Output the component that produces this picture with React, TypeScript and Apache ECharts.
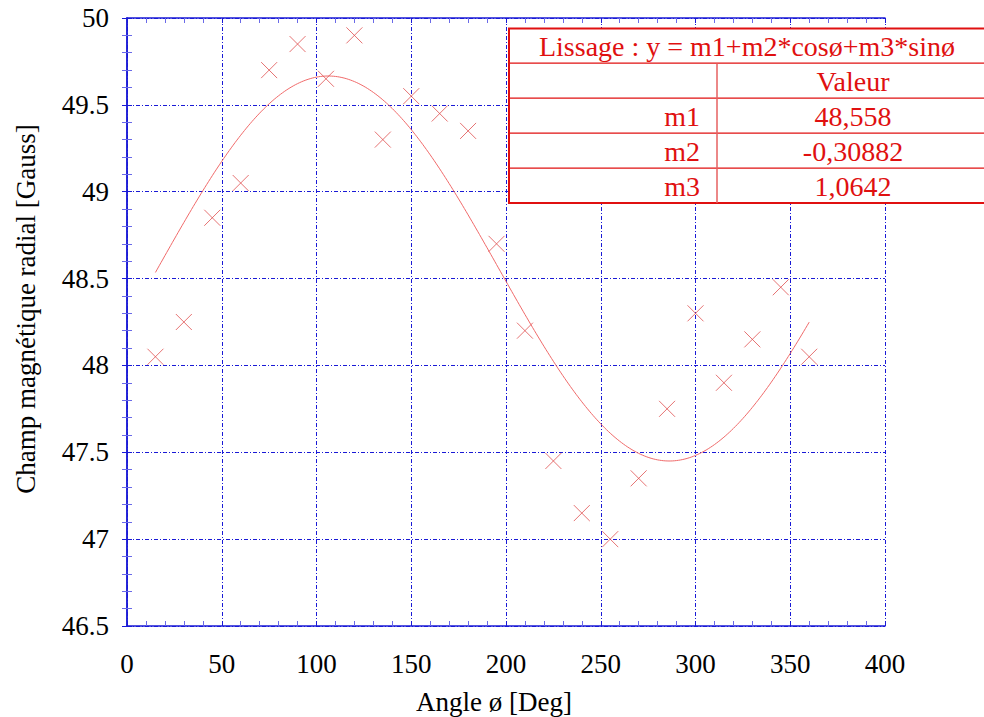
import React, { useEffect, useRef } from "react";
import * as echarts from "echarts";

// Measured radial field vs. angle
const angles = [15, 30, 45, 60, 75, 90, 105, 120, 135, 150, 165, 180, 195, 210, 225, 240, 255, 270, 285, 300, 315, 330, 345, 360];
const fieldValues = [48.05, 48.25, 48.85, 49.05, 49.7, 49.85, 49.65, 49.9, 49.3, 49.55, 49.45, 49.35, 48.7, 48.2, 47.45, 47.15, 47.0, 47.35, 47.75, 48.3, 47.9, 48.15, 48.45, 48.05];

// Fit parameters: y = m1 + m2*cos(ø) + m3*sin(ø)
const paramNames = ["m1", "m2", "m3"];
const paramValues = [48.558, -0.30882, 1.0642];

const xTicks = [0, 50, 100, 150, 200, 250, 300, 350, 400];
const yTicks = [46.5, 47, 47.5, 48, 48.5, 49, 49.5, 50];

const FONT = "Liberation Serif";
const BLUE = "#1a1ad6";
const RED = "#e01010";

function fitCurve(): number[][] {
  const [m1, m2, m3] = paramValues;
  const pts: number[][] = [];
  const start = angles[0];
  const end = angles[angles.length - 1];
  for (let a = start; a <= end; a += 1) {
    const r = (a * Math.PI) / 180;
    pts.push([a, m1 + m2 * Math.cos(r) + m3 * Math.sin(r)]);
  }
  return pts;
}

function frNumber(v: number): string {
  return String(v).replace(".", ",");
}

function buildTable(): any[] {
  const left = 509;
  const right = 990;
  const top = 28.5;
  const rowH = 34.9;
  const colX = 717;
  const rows = 2 + paramNames.length;
  const bottom = top + rowH * rows;
  const els: any[] = [];
  els.push({
    type: "rect",
    shape: { x: left, y: top, width: right - left, height: bottom - top },
    style: { fill: "#ffffff", stroke: RED, lineWidth: 2 },
    z: 10,
  });
  for (let i = 1; i < rows; i++) {
    const y = Math.round(top + rowH * i);
    els.push({
      type: "rect",
      shape: { x: left, y: y - 0.6, width: right - left, height: 1.3 },
      style: { fill: RED },
      z: 11,
    });
  }
  els.push({
    type: "rect",
    shape: { x: colX - 0.75, y: top + rowH, width: 1.5, height: bottom - top - rowH },
    style: { fill: "#e66060" },
    z: 11,
  });
  const textStyle = { fontFamily: FONT, fontSize: 28, fill: RED, verticalAlign: "middle" };
  els.push({
    type: "text",
    x: 747,
    y: top + rowH / 2 + 1,
    style: { ...textStyle, text: "Lissage : y = m1+m2*cosø+m3*sinø", align: "center" },
    z: 12,
  });
  els.push({
    type: "text",
    x: 853,
    y: top + rowH * 1.5 + 1,
    style: { ...textStyle, text: "Valeur", align: "center" },
    z: 12,
  });
  paramNames.forEach((n, i) => {
    const cy = top + rowH * (2.5 + i) + 1;
    els.push({ type: "text", x: 700, y: cy, style: { ...textStyle, text: n, align: "right" }, z: 12 });
    els.push({
      type: "text",
      x: 853,
      y: cy,
      style: { ...textStyle, text: frNumber(paramValues[i]), align: "center" },
      z: 12,
    });
  });
  return els;
}

export default function App() {
  const ref = useRef<HTMLDivElement>(null);

  useEffect(() => {
    if (!ref.current) return;
    const chart = echarts.init(ref.current, null, { renderer: "svg" });
    const gridLine = { show: true, lineStyle: { color: BLUE, width: 1, type: [4, 2, 1, 2] as any } };
    const labelStyle = { fontFamily: FONT, fontSize: 27, color: "#000" };
    const hiddenAxisCommon = {
      axisLine: { show: true, lineStyle: { color: BLUE, width: 1.5 } },
      axisTick: { show: true, inside: true, length: 5, lineStyle: { color: BLUE } },
      minorTick: { show: true, splitNumber: 5, length: 5, lineStyle: { color: "#6a6ae8" } },
      axisLabel: { show: false },
      splitLine: { show: false },
    };
    chart.setOption({
      animation: false,
      backgroundColor: "#fff",
      textStyle: { fontFamily: FONT },
      grid: { left: 127, right: 99, top: 18, bottom: 91, containLabel: false, outerBoundsMode: "none" },
      xAxis: [
        {
          type: "value",
          min: 0,
          max: 400,
          interval: 50,
          name: "Angle ø [Deg]",
          nameLocation: "middle",
          nameGap: 62,
          nameTextStyle: { fontFamily: FONT, fontSize: 27, color: "#000", padding: [0, 24, 0, 0] },
          axisLine: { show: true, onZero: false, lineStyle: { color: BLUE, width: 1.5 } },
          axisTick: { show: true, inside: true, length: 5, lineStyle: { color: BLUE } },
          minorTick: { show: true, splitNumber: 5, length: 5, lineStyle: { color: "#6a6ae8" } },
          axisLabel: { ...labelStyle, margin: 24, customValues: xTicks },
          splitLine: gridLine,
        },
        { type: "value", min: 0, max: 400, interval: 50, position: "top", ...hiddenAxisCommon },
      ],
      yAxis: [
        {
          type: "value",
          min: 46.5,
          max: 50,
          interval: 0.5,
          name: "Champ magnétique radial [Gauss]",
          nameLocation: "middle",
          nameGap: 88,
          nameTextStyle: { fontFamily: FONT, fontSize: 27, color: "#000", padding: [0, 0, 0, 26] },
          axisLine: { show: true, onZero: false, lineStyle: { color: BLUE, width: 1.5 } },
          axisTick: { show: true, inside: true, length: 5, lineStyle: { color: BLUE } },
          minorTick: { show: true, splitNumber: 5, length: 5, lineStyle: { color: "#6a6ae8" } },
          axisLabel: { ...labelStyle, margin: 18, customValues: yTicks },
          splitLine: gridLine,
        },
        { type: "value", min: 46.5, max: 50, interval: 0.5, position: "right", ...hiddenAxisCommon },
      ],
      series: [
        {
          type: "line",
          data: fitCurve(),
          showSymbol: false,
          symbol: "none",
          lineStyle: { color: "#f06a6a", width: 1 },
          z: 3,
        },
        {
          type: "scatter",
          data: angles.map((a, i) => [a, fieldValues[i]]),
          symbol: "path://M0,0L10,10M10,0L0,10",
          symbolSize: 16,
          itemStyle: { color: "none", borderColor: "#e05050", borderWidth: 1 },
          z: 4,
        },
      ],
      graphic: buildTable(),
    });
    return () => chart.dispose();
  }, []);

  return <div ref={ref} style={{ width: 984, height: 717, position: "absolute", left: 0, top: 0 }} />;
}
